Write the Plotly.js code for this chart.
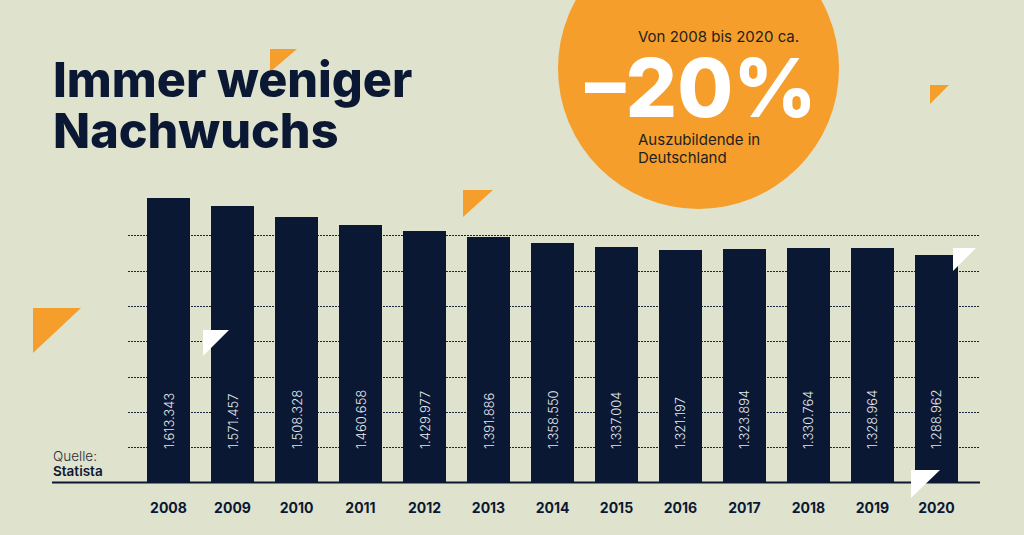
<!DOCTYPE html>
<html>
<head>
<meta charset="utf-8">
<script src="https://cdn.plot.ly/plotly-3.0.1.min.js"></script>
<style>
  html, body { margin: 0; padding: 0; background: #DFE2CC; }
  #chart { width: 1024px; height: 535px; }
</style>
</head>
<body>
<div id="chart"></div>
<script>
// ---- data ----
const years = ['2008','2009','2010','2011','2012','2013','2014','2015','2016','2017','2018','2019','2020'];
const apprentices = [1613343, 1571457, 1508328, 1460658, 1429977, 1391886, 1358550, 1337004, 1321197, 1323894, 1330764, 1328964, 1288962];
const gridValues = [200000, 400000, 600000, 800000, 1000000, 1200000, 1400000];
const titleLines = ['Immer weniger', 'Nachwuchs'];
const calloutTop = 'Von 2008 bis 2020 ca.';
const calloutBig = '–20%';
const calloutBottom = ['Auszubildende in', 'Deutschland'];
const sourceLabel = 'Quelle:';
const sourceName = 'Statista';

// ---- styling ----
const NAVY = '#0B1834';
const ORANGE = '#F59E2B';
const BG = '#DFE2CC';
const W = 1024, H = 535;
const M = { l: 128, r: 44, t: 190, b: 52 };
const PW = W - M.l - M.r, PH = H - M.t - M.b;
const Y_MAX = 1660000;
const px = x => (x - M.l) / PW;           // pixel -> paper x
const py = y => (H - M.b - y) / PH;        // pixel -> paper y
const LABEL_FLOOR = 31 * Y_MAX / PH;        // value labels start ~31px above the baseline

function fmtDE(v) {
  return String(v).replace(/\B(?=(\d{3})+(?!\d))/g, '.');
}

function tri(points, color) {
  const d = 'M ' + points.map(p => px(p[0]) + ',' + py(p[1])).join(' L ') + ' Z';
  return { type: 'path', xref: 'paper', yref: 'paper', path: d,
           fillcolor: color, line: { width: 0 }, layer: 'above' };
}

const bars = {
  type: 'bar',
  x: years,
  y: apprentices,
  width: 0.67,
  marker: { color: NAVY, line: { width: 0 } },
  hoverinfo: 'x+y'
};

// transparent overlay carrying the rotated value labels
const labels = {
  type: 'bar',
  x: years,
  y: apprentices.map(v => v - LABEL_FLOOR),
  base: LABEL_FLOOR,
  width: 0.67,
  marker: { color: 'rgba(0,0,0,0)', line: { width: 0 } },
  text: apprentices.map(fmtDE),
  texttemplate: '%{text}',
  textposition: 'inside',
  insidetextanchor: 'start',
  textangle: -90,
  constraintext: 'none',
  insidetextfont: { family: 'Inter, Lato, sans-serif', size: 13, color: '#E4E8EE', weight: 300 },
  hoverinfo: 'skip'
};

const annotations = [];
// title
annotations.push({ xref: 'paper', yref: 'paper', x: px(51), y: py(80), xanchor: 'left', yanchor: 'middle',
  text: titleLines[0], showarrow: false,
  font: { family: 'Inter, sans-serif', size: 48.5, color: NAVY, weight: 800 } });
annotations.push({ xref: 'paper', yref: 'paper', x: px(51), y: py(130), xanchor: 'left', yanchor: 'middle',
  text: titleLines[1], showarrow: false,
  font: { family: 'Inter, sans-serif', size: 48.5, color: NAVY, weight: 800 } });
// callout text
annotations.push({ xref: 'paper', yref: 'paper', x: px(636), y: py(36), xanchor: 'left', yanchor: 'middle',
  text: calloutTop, showarrow: false,
  font: { family: 'Inter, sans-serif', size: 15, color: '#1E1E1E', weight: 400 } });
annotations.push({ xref: 'paper', yref: 'paper', x: px(583), y: py(88), xanchor: 'left', yanchor: 'middle',
  text: calloutBig, showarrow: false,
  font: { family: 'Inter, sans-serif', size: 81, color: '#FFFFFF', weight: 800 } });
annotations.push({ xref: 'paper', yref: 'paper', x: px(636), y: py(140), xanchor: 'left', yanchor: 'middle',
  text: calloutBottom[0], showarrow: false,
  font: { family: 'Inter, sans-serif', size: 15, color: '#1E1E1E', weight: 400 } });
annotations.push({ xref: 'paper', yref: 'paper', x: px(636), y: py(158), xanchor: 'left', yanchor: 'middle',
  text: calloutBottom[1], showarrow: false,
  font: { family: 'Inter, sans-serif', size: 15, color: '#1E1E1E', weight: 400 } });
// source
annotations.push({ xref: 'paper', yref: 'paper', x: px(51), y: py(456), xanchor: 'left', yanchor: 'middle',
  text: sourceLabel, showarrow: false,
  font: { family: 'Inter, sans-serif', size: 13.5, color: '#2A2F3A', weight: 300 } });
annotations.push({ xref: 'paper', yref: 'paper', x: px(51), y: py(471), xanchor: 'left', yanchor: 'middle',
  text: sourceName, showarrow: false,
  font: { family: 'Inter, sans-serif', size: 13.5, color: NAVY, weight: 600 } });

const shapes = [
  // callout circle
  { type: 'circle', xref: 'paper', yref: 'paper', x0: px(558), x1: px(839), y0: py(209), y1: py(-72),
    fillcolor: ORANGE, line: { width: 0 }, layer: 'below' },
  // baseline
  { type: 'line', xref: 'paper', yref: 'paper', x0: px(52), x1: 1, y0: py(482.5), y1: py(482.5),
    line: { color: NAVY, width: 2 }, layer: 'above' },
  // decorative triangles
  tri([[270, 49], [297, 49], [270, 72]], ORANGE),
  tri([[930, 85], [949, 85], [930, 104]], ORANGE),
  tri([[33, 308], [81, 308], [33, 353]], ORANGE),
  tri([[463, 190], [493, 190], [463, 217]], ORANGE),
  tri([[203, 330], [229, 330], [203, 356]], '#FFFFFF'),
  tri([[953, 248], [976, 248], [953, 271]], '#FFFFFF'),
  tri([[911, 470], [940, 470], [911, 498]], '#FFFFFF')
];

const layout = {
  width: W, height: H,
  margin: M,
  paper_bgcolor: BG,
  plot_bgcolor: 'rgba(0,0,0,0)',
  showlegend: false,
  barmode: 'overlay',
  bargap: 0,
  xaxis: {
    type: 'category',
    range: [-0.633, 12.68],
    showgrid: false, zeroline: false, showline: false,
    ticks: 'outside', ticklen: 12, tickcolor: 'rgba(0,0,0,0)',
    tickfont: { family: 'Inter, sans-serif', size: 14, color: NAVY, weight: 700 },
    fixedrange: true
  },
  yaxis: {
    range: [0, Y_MAX],
    tickvals: gridValues,
    showticklabels: false,
    showgrid: true,
    gridcolor: '#1B2540',
    gridwidth: 1,
    griddash: '1.5px,1.5px',
    zeroline: false, showline: false, ticks: '',
    fixedrange: true
  },
  shapes: shapes,
  annotations: annotations
};

Plotly.newPlot('chart', [bars, labels], layout, { displayModeBar: false, staticPlot: true });
</script>
</body>
</html>
